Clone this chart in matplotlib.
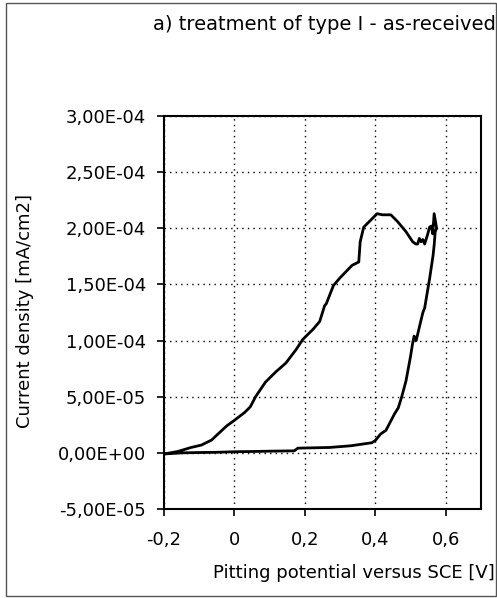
import matplotlib
matplotlib.use("Agg")
import matplotlib.pyplot as plt
from matplotlib.ticker import FuncFormatter, FixedLocator
from matplotlib.patches import Rectangle
import numpy as np

plt.rcParams['font.family'] = ['DejaVu Sans']

title = "a) treatment of type I - as-received"
xlabel = "Pitting potential versus SCE [V]"
ylabel = "Current density [mA/cm2]"

# forward scan (lower branch)
forward_x = [-0.2, -0.15, -0.1, -0.05, 0.0, 0.05, 0.1, 0.17, 0.18, 0.27, 0.33, 0.39,
             0.40, 0.415, 0.43, 0.44, 0.455, 0.465, 0.475, 0.487, 0.50, 0.505, 0.51,
             0.516, 0.525, 0.535, 0.54, 0.554, 0.564, 0.567, 0.57]
forward_y = [-1, 0, 0.3, 0.5, 1.0, 1.2, 1.5, 1.8, 4.2, 4.8, 6.3, 9.0,
             11, 16.8, 20, 26, 35, 40, 50, 64, 86, 96, 104,
             100, 112, 125, 129, 155, 176, 185, 197]
# reverse scan (upper branch)
reverse_x = [0.57, 0.574, 0.567, 0.563, 0.559, 0.554, 0.548, 0.54, 0.535, 0.53, 0.525,
             0.52, 0.515, 0.506, 0.487, 0.463, 0.444, 0.42, 0.405, 0.386, 0.367, 0.357,
             0.353, 0.334, 0.30, 0.281, 0.261, 0.256, 0.242, 0.223, 0.194, 0.175, 0.146,
             0.117, 0.088, 0.06, 0.045, 0.029, 0.0, -0.022, -0.046, -0.065, -0.094,
             -0.123, -0.161, -0.2]
reverse_y = [197, 200, 213, 195, 202, 201, 194, 186, 190, 188, 191,
             186, 186, 188, 197, 206, 212, 212, 213, 207, 201, 188,
             170, 167, 156, 149, 133, 131, 117, 110, 101, 92, 80,
             72, 63, 50, 41, 36, 29, 24, 17, 11.4, 6.9,
             4.8, 1.2, -1]

x_ticks = [-0.2, 0.0, 0.2, 0.4, 0.6]
y_ticks = [-5e-5, 0, 5e-5, 1e-4, 1.5e-4, 2e-4, 2.5e-4, 3e-4]

W, H = 497, 598
fig = plt.figure(figsize=(W / 100, H / 100), dpi=100)
ax = fig.add_axes([164 / W, 1 - 509 / H, (481 - 164) / W, (509 - 116) / H])

xs = np.array(forward_x + reverse_x)
ys = np.array(forward_y + reverse_y) * 1e-6
ax.plot(xs, ys, color='black', lw=2.0, solid_joinstyle='round')

ax.set_xlim(-0.2, 0.7)
ax.set_ylim(-5e-5, 3e-4)
ax.xaxis.set_major_locator(FixedLocator(x_ticks))
ax.yaxis.set_major_locator(FixedLocator(y_ticks))


def xfmt(v, pos):
    if abs(v) < 1e-9:
        return "0"
    return f"{v:.1f}".replace('.', ',')


def yfmt(v, pos):
    return f"{v:.2E}".replace('.', ',')


ax.xaxis.set_major_formatter(FuncFormatter(xfmt))
ax.yaxis.set_major_formatter(FuncFormatter(yfmt))
ax.grid(True, color='black', linestyle=(0, (1, 3)), lw=1.0)
for s in ax.spines.values():
    s.set_linewidth(1.5)
ax.tick_params(axis='x', direction='out', length=5, width=1.2, pad=11, labelsize=13)
ax.tick_params(axis='y', direction='out', length=5, width=1.2, pad=8, labelsize=13)

fig.text(496 / W, 1 - 24 / H, title, ha='right', va='center', fontsize=14)
fig.text(495 / W, 1 - 573 / H, xlabel, ha='right', va='center', fontsize=13)
fig.text(25 / W, 1 - 311 / H, ylabel, ha='center', va='center', rotation=90, fontsize=13)

fig.patches.append(Rectangle((6 / W, 2 / H), (W - 7) / W, (H - 5) / H,
                             transform=fig.transFigure, fill=False,
                             edgecolor='#555555', lw=1.0))

fig.savefig("out.png", dpi=100)
